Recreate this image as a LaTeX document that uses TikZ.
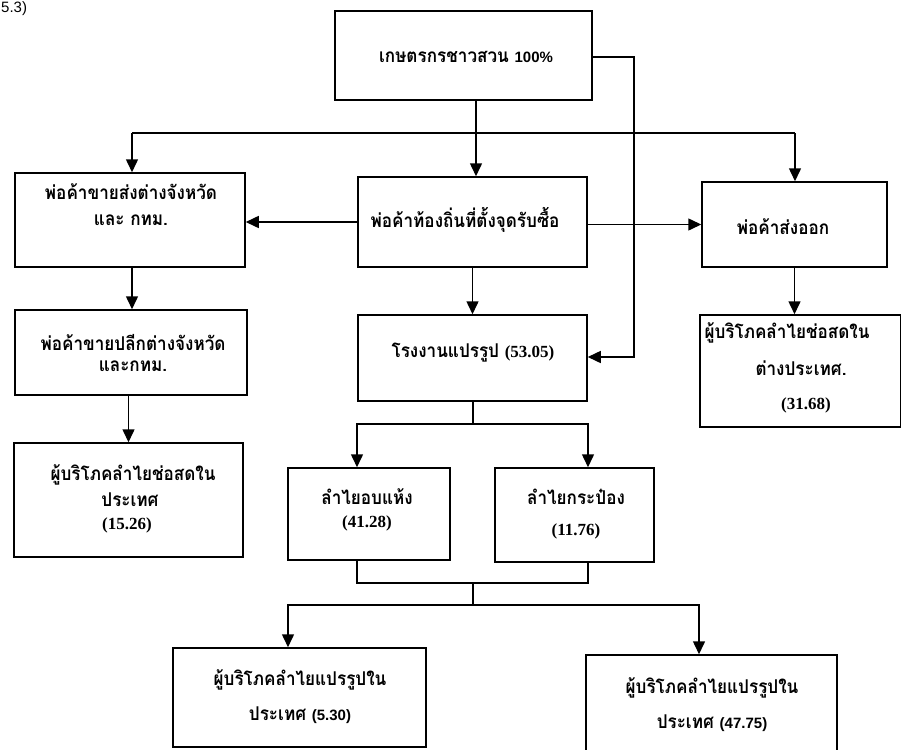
\documentclass[tikz,border=0pt]{standalone}
\usepackage{fontspec}
\usetikzlibrary{arrows.meta}
\newfontfamily\thaifont[Script=Thai,FakeStretch=0.9]{Loma}
\newfontfamily\numsansfont{Liberation Sans}
\newfontfamily\numseriffont{Liberation Serif}
\newcommand\myserifnum[1]{{\numseriffont\bfseries\fontsize{17}{20}\selectfont #1}}
\newcommand\mysansnum[1]{{\numsansfont\fontsize{15}{18}\selectfont #1}}
\tikzset{
  box/.style={draw, line width=1.5pt, inner sep=0pt},
  txt/.style={font=\thaifont\bfseries\fontsize{19}{22}\selectfont, inner sep=0pt},
  conn/.style={line width=1.5pt},
  arr/.style={line width=1.5pt, -{Triangle[length=13pt,width=12pt]}},
}
\begin{document}
\begin{tikzpicture}[x=1pt,y=-1pt]
\fill[white] (0,0) rectangle (901,749);
\useasboundingbox (0,0) rectangle (901,749);

% boxes
\node[box, minimum width=257pt, minimum height=89pt] (top) at (463.5,55.5) {};
\node[box, minimum width=230pt, minimum height=94pt] (L1) at (130,220) {};
\node[box, minimum width=229pt, minimum height=90pt] (M1) at (472.5,222) {};
\node[box, minimum width=185pt, minimum height=85pt] (R1) at (794.5,224.5) {};
\node[box, minimum width=232pt, minimum height=85pt] (L2) at (131,352.5) {};
\node[box, minimum width=229pt, minimum height=86pt] (F) at (472.5,358) {};
\node[box, minimum width=201pt, minimum height=112pt] (R2) at (800.5,371) {};
\node[box, minimum width=229pt, minimum height=114pt] (L3) at (128.5,500) {};
\node[box, minimum width=162pt, minimum height=92pt] (D) at (369,514) {};
\node[box, minimum width=159pt, minimum height=94pt] (C) at (574.5,515) {};
\node[box, minimum width=253pt, minimum height=99pt] (BL) at (299.5,697.5) {};
\node[box, minimum width=251pt, minimum height=105pt] (BR) at (711.5,707.5) {};

% texts
\node[anchor=west, inner sep=0pt, font=\numsansfont\fontsize{15}{18}\selectfont] (ref) at (1,9) {5.3)};
\node[txt] (tTop) at (466,57) {เกษตรกรชาวสวน \mysansnum{100\%}};
\node[txt] (tL1a) at (131,192) {พ่อค้าขายส่งต่างจังหวัด};
\node[txt] (tL1b) at (131,220) {และ กทม.};
\node[txt] (tM1) at (465,220) {พ่อค้าท้องถิ่นที่ตั้งจุดรับซื้อ};
\node[txt] (tR1) at (783,227) {พ่อค้าส่งออก};
\node[txt] (tL2a) at (133,342) {พ่อค้าขายปลีกต่างจังหวัด};
\node[txt] (tL2b) at (133,366) {และกทม.};
\node[txt] (tF) at (473,353) {โรงงานแปรรูป \myserifnum{(53.05)}};
\node[txt] (tR2a) at (787,333) {ผู้บริโภคลำไยช่อสดใน};
\node[txt] (tR2b) at (801,368) {ต่างประเทศ.};
\node[txt] (tR2c) at (806,405) {\myserifnum{(31.68)}};
\node[txt] (tL3a) at (133,475) {ผู้บริโภคลำไยช่อสดใน};
\node[txt] (tL3b) at (130,500) {ประเทศ};
\node[txt] (tL3c) at (127,525) {\myserifnum{(15.26)}};
\node[txt] (tDa) at (367,497) {ลำไยอบแห้ง};
\node[txt] (tDb) at (367,523) {\myserifnum{(41.28)}};
\node[txt] (tCa) at (576,497) {ลำไยกระป๋อง};
\node[txt] (tCb) at (576,531) {\myserifnum{(11.76)}};
\node[txt] (tBLa) at (300,680) {ผู้บริโภคลำไยแปรรูปใน};
\node[txt] (tBLb) at (300,715) {ประเทศ \mysansnum{(5.30)}};
\node[txt] (tBRa) at (712,688) {ผู้บริโภคลำไยแปรรูปใน};
\node[txt] (tBRb) at (712,723) {ประเทศ \mysansnum{(47.75)}};

% junction coordinates
\coordinate (hl) at (132,133);
\coordinate (hm) at (476,133);
\coordinate (hr) at (795,133);
\coordinate (tr) at (634,57);
\coordinate (fa) at (634,357);
\coordinate (fs) at (473,424);
\coordinate (fdl) at (357,424);
\coordinate (fdr) at (588,424);
\coordinate (ml) at (357,583);
\coordinate (mm) at (473,583);
\coordinate (mr) at (588,583);
\coordinate (bm) at (473,605);
\coordinate (bl) at (288,605);
\coordinate (br) at (699,605);

% connectors
\draw[conn] (top.south -| hm) -- (hm);
\draw[conn] (hl) -- (hr);
\draw[arr] (hl) -- (L1.north -| hl);
\draw[arr] (hm) -- (M1.north -| hm);
\draw[arr] (hr) -- (R1.north -| hr);
\draw[arr] (top.east |- tr) -- (tr) -- (fa) -- (F.east |- fa);
\draw[arr] (M1.west) -- (L1.east |- M1.west);
\draw[arr] (M1.east |- R1.west) -- (R1.west);
\draw[arr] (L1.south -| hl) -- (L2.north -| hl);
\draw[arr] (L2.south -| L3.north) -- (L3.north);
\draw[arr] (M1.south) -- (F.north);
\draw[arr] (R1.south) -- (R1.south |- R2.north);
\draw[conn] (F.south -| fs) -- (fs);
\draw[arr] (fs) -- (fdl) -- (D.north -| fdl);
\draw[arr] (fs) -- (fdr) -- (C.north -| fdr);
\draw[conn] (D.south -| ml) -- (ml) -- (mr) -- (C.south -| mr);
\draw[conn] (mm) -- (bm);
\draw[arr] (bm) -- (bl) -- (BL.north -| bl);
\draw[arr] (bm) -- (br) -- (BR.north -| br);
\end{tikzpicture}
\end{document}
